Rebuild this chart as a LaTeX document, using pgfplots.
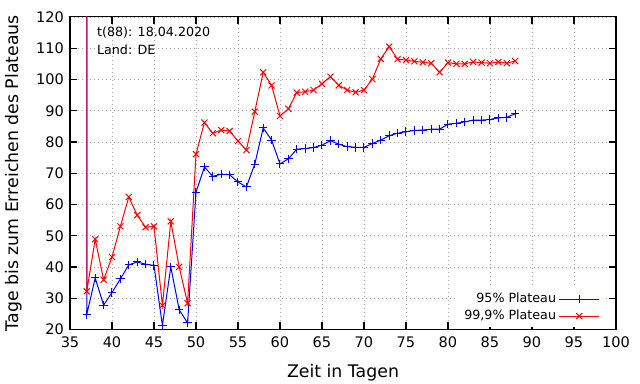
\documentclass[border=0pt]{standalone}
\usepackage{pgfplots}
\pgfplotsset{compat=1.18}
\usepackage{fontspec}
\setmainfont{DejaVu Sans}
\pgfplotstableread{
x y
37 500
37 24.8
38 36.5
39 27.8
40 31.8
41 36.2
42 40.7
43 41.6
44 40.9
45 40.5
46 21.3
47 40.0
48 26.3
49 22.1
50 63.9
51 72.0
52 69.0
53 69.7
54 69.5
55 67.2
56 65.6
57 72.9
58 84.5
59 80.6
60 73.0
61 74.6
62 77.7
63 77.9
64 78.2
65 79.0
66 80.4
67 79.3
68 78.5
69 78.3
70 78.3
71 79.5
72 80.6
73 82.0
74 82.8
75 83.3
76 83.7
77 83.8
78 84.1
79 84.1
80 85.7
81 86.0
82 86.4
83 87.0
84 87.0
85 87.2
86 87.7
87 87.9
88 89.0
}\blueData
\pgfplotstableread{
x y
37 500
37 32.2
38 48.9
39 35.9
40 43.2
41 53.0
42 62.4
43 56.6
44 52.7
45 53.0
46 27.7
47 54.6
48 40.0
49 28.4
50 76.1
51 86.2
52 82.8
53 83.8
54 83.5
55 80.3
56 77.4
57 89.7
58 102.3
59 98.1
60 88.3
61 90.6
62 95.8
63 96.1
64 96.6
65 98.6
66 100.9
67 98.1
68 96.6
69 95.9
70 96.6
71 100.1
72 106.6
73 110.5
74 106.5
75 106.2
76 105.8
77 105.5
78 105.2
79 102.3
80 105.4
81 105.0
82 105.0
83 105.6
84 105.4
85 105.2
86 105.6
87 105.2
88 105.9
}\redData
\begin{document}
\begin{tikzpicture}[x=1pt,y=1pt]
\begin{axis}[
  name=ax,
  at={(0,0)}, anchor=south west,
  scale only axis,
  width=409.5pt, height=234.4pt,
  xmin=35, xmax=100, ymin=20, ymax=120,
  xtick={35,40,...,100}, ytick={20,30,...,120},
  tick align=inside,
  major tick length=5.25pt,
  axis line style={line width=0.8pt},
  every tick/.style={black, line width=0.8pt},
  grid=major,
  major grid style={gray!70, line width=0.6pt, dash pattern=on 0.8pt off 2.2pt},
  /pgf/number format/assume math mode=true,
  /pgf/number format/1000 sep={},
  tick label style={font=\fontsize{10.9}{12}\selectfont},
  xticklabel style={yshift=-2pt},
  yticklabel style={xshift=-1pt},
  xlabel={Zeit in Tagen},
  ylabel={Tage bis zum Erreichen des Plateaus},
  every axis x label/.style={at={(axis description cs:0.5,-0.139)}, anchor=center, font=\fontsize{13}{15}\selectfont},
  every axis y label/.style={at={(axis description cs:-0.1026,0.5)}, anchor=center, rotate=90, font=\fontsize{13}{15}\selectfont},
  legend style={at={(1,0)}, anchor=south east, draw=none, fill=white, xshift=-9pt, yshift=1.5pt,
    font=\fontsize{9.5}{11}\selectfont, row sep=0pt},
  legend cell align=right,
  legend plot pos=right,
  clip mode=global,
]
\addplot[color=blue, line width=0.75pt, mark=+, mark size=3.2pt, mark options={color=blue, line width=0.75pt},
  legend image code/.code={\draw[draw=blue, line width=0.75pt] (0pt,0pt) -- (30pt,0pt); \draw[draw=blue, line width=0.75pt] (15pt,-3.2pt) -- (15pt,3.2pt);}] table {\blueData};
\addlegendentry{95\% Plateau}
\addplot[color=red, line width=0.75pt, mark=x, mark size=3.2pt, mark options={color=red, line width=0.75pt},
  legend image code/.code={\draw[draw=red, line width=0.75pt] (0pt,0pt) -- (30pt,0pt); \draw[draw=red, line width=0.75pt] (12.74pt,-2.26pt) -- (17.26pt,2.26pt) (12.74pt,2.26pt) -- (17.26pt,-2.26pt);}] table {\redData};
\addlegendentry{99,9\% Plateau}
\node[anchor=west, inner sep=0pt, font=\fontsize{9.5}{11}\selectfont] at (axis cs:38.2,114.9) {t(88): 18.04.2020};
\node[anchor=west, inner sep=0pt, font=\fontsize{9.5}{11}\selectfont] at (axis cs:38.2,109.4) {Land: DE};
\end{axis}
\pgfresetboundingbox
\path[use as bounding box] (ax.south west) ++(-52.5pt,-40.875pt) rectangle ++(480pt,288pt);
\end{tikzpicture}
\end{document}
